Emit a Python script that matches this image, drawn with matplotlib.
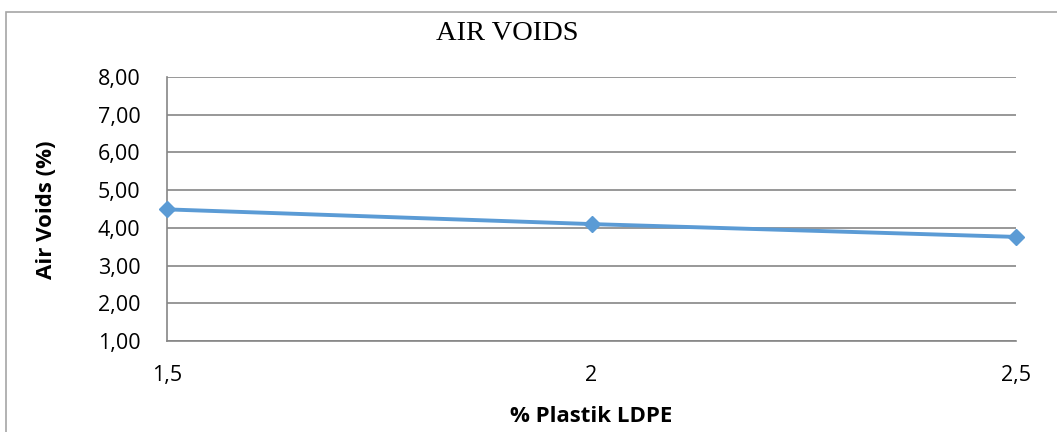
import matplotlib.pyplot as plt
from matplotlib.patches import Rectangle
from matplotlib.ticker import FuncFormatter

# Data
plastik = ["1,5", "2", "2,5"]
air_voids = [4.49, 4.10, 3.76]
y_ticks = [1, 2, 3, 4, 5, 6, 7, 8]

fig = plt.figure(figsize=(10.57, 4.32), dpi=100)
ax = fig.add_axes([167 / 1057, 91 / 432, 849 / 1057, 264 / 432])

# outer chart border (cropped on right/bottom)
fig.patches.append(Rectangle((6 / 1057, -0.1), 1.2, 1.1 - 12 / 432,
                             transform=fig.transFigure, fill=False,
                             edgecolor="#a6a6a6", linewidth=1.2))

x = list(range(len(plastik)))
ax.plot(x, air_voids, color="#5B9BD5", linewidth=2.8, marker="D",
        markersize=8.5, markeredgecolor="#5B9BD5", zorder=3, clip_on=False)

ax.set_xlim(0, len(plastik) - 1)
ax.set_ylim(1, 8)
ax.set_xticks(x)
ax.set_xticklabels(plastik)
ax.set_yticks(y_ticks)
ax.yaxis.set_major_formatter(FuncFormatter(lambda v, p: f"{v:.2f}".replace(".", ",")))

ax.grid(axis="y", color="#868686", linewidth=1.2)
ax.set_axisbelow(True)
for s in ["top", "right"]:
    ax.spines[s].set_visible(False)
for s in ["left", "bottom"]:
    ax.spines[s].set_color("#868686")
    ax.spines[s].set_linewidth(1.2)

ax.tick_params(axis="both", length=0, labelsize=15.5)
ax.tick_params(axis="y", pad=19)
ax.tick_params(axis="x", pad=17)
for lab in ax.get_xticklabels() + ax.get_yticklabels():
    lab.set_fontfamily("Open Sans")

fig.text(591 / 1057, 1 - 416 / 432, "% Plastik LDPE", ha="center", va="center",
         fontsize=16, fontweight="bold", fontfamily="Open Sans")
fig.text(46 / 1057, 1 - 210 / 432, "Air Voids (%)", ha="center", va="center",
         rotation=90, fontsize=16, fontweight="bold", fontfamily="Open Sans")

fig.text(507 / 1057, 1 - 34 / 432, "AIR VOIDS", ha="center", va="center",
         fontsize=20.5, fontfamily="Liberation Serif")

fig.savefig("out.png", dpi=100)
